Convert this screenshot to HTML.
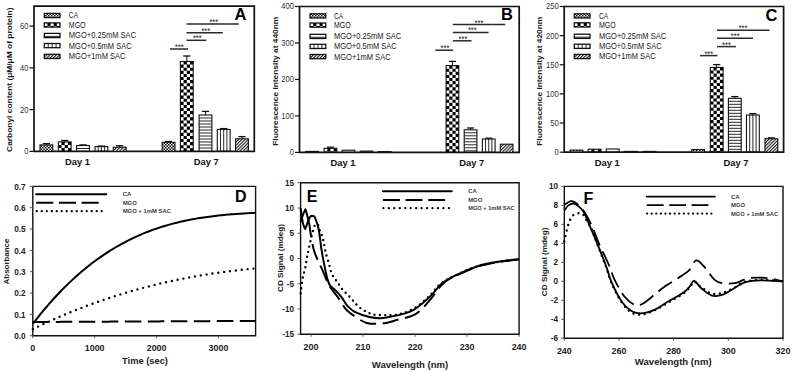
<!DOCTYPE html>
<html><head><meta charset="utf-8"><style>
html,body{margin:0;padding:0;background:#fff;width:793px;height:372px;overflow:hidden}
svg{display:block;font-family:"Liberation Sans", sans-serif}
</style></head><body>
<svg width="793" height="372" viewBox="0 0 793 372">
<rect width="793" height="372" fill="#fff"/>
<defs>
<pattern id="pCA" patternUnits="userSpaceOnUse" width="3" height="3"><rect width="3" height="3" fill="#fff"/><rect width="1.5" height="1.5" fill="#000"/><rect x="1.5" y="1.5" width="1.5" height="1.5" fill="#000"/></pattern>
<pattern id="pMGO" patternUnits="userSpaceOnUse" width="6.1" height="6.1"><rect width="6.1" height="6.1" fill="#fff"/><rect width="3.05" height="3.05" fill="#000"/><rect x="3.05" y="3.05" width="3.05" height="3.05" fill="#000"/></pattern>
<pattern id="pH" patternUnits="userSpaceOnUse" width="4" height="3"><rect width="4" height="3" fill="#fff"/><rect y="0" width="4" height="1" fill="#111"/></pattern>
<pattern id="pV" patternUnits="userSpaceOnUse" width="3.1" height="4"><rect width="3.1" height="4" fill="#fff"/><rect x="0" width="1" height="4" fill="#111"/></pattern>
<pattern id="pD" patternUnits="userSpaceOnUse" width="2.3" height="4" patternTransform="rotate(45)"><rect width="2.3" height="4" fill="#fff"/><rect width="1.05" height="4" fill="#111"/></pattern>
</defs>
<path d="M34,6.2 H254.3 V151.4 H34 Z" fill="none" stroke="#111" stroke-width="1.7"/>
<line x1="29.5" y1="151.4" x2="34" y2="151.4" stroke="#111" stroke-width="1.2"/>
<text transform="translate(28.4,154.3) scale(0.88,1)" font-size="8.6" text-anchor="end" fill="#333">0</text>
<line x1="29.5" y1="109.63" x2="34" y2="109.63" stroke="#111" stroke-width="1.2"/>
<text transform="translate(28.4,112.53) scale(0.88,1)" font-size="8.6" text-anchor="end" fill="#333">20</text>
<line x1="29.5" y1="67.87" x2="34" y2="67.87" stroke="#111" stroke-width="1.2"/>
<text transform="translate(28.4,70.77) scale(0.88,1)" font-size="8.6" text-anchor="end" fill="#333">40</text>
<line x1="29.5" y1="26.1" x2="34" y2="26.1" stroke="#111" stroke-width="1.2"/>
<text transform="translate(28.4,29) scale(0.88,1)" font-size="8.6" text-anchor="end" fill="#333">60</text>
<rect x="40" y="144.9" width="12.8" height="6.5" fill="url(#pCA)"/>
<rect x="40" y="144.9" width="12.8" height="6.5" fill="none" stroke="#111" stroke-width="1.1"/>
<line x1="46.4" y1="143.6" x2="46.4" y2="144.9" stroke="#111" stroke-width="1"/>
<line x1="42.8" y1="143.6" x2="50" y2="143.6" stroke="#111" stroke-width="1.3"/>
<path d="M61.5,141.9h3.2v3.1h-3.2zM67.9,141.9h3.2v3.1h-3.2zM58.3,145h3.2v3.1h-3.2zM64.7,145h3.2v3.1h-3.2zM61.5,148.1h3.2v3.1h-3.2zM67.9,148.1h3.2v3.1h-3.2zM58.3,151.2h3.2v0.2h-3.2zM64.7,151.2h3.2v0.2h-3.2z" fill="#000"/>
<rect x="58.3" y="141.9" width="12.8" height="9.5" fill="none" stroke="#111" stroke-width="1.1"/>
<line x1="64.7" y1="140.5" x2="64.7" y2="141.9" stroke="#111" stroke-width="1"/>
<line x1="61.1" y1="140.5" x2="68.3" y2="140.5" stroke="#111" stroke-width="1.3"/>
<path d="M76.6,148.5H89.4" stroke="#111" stroke-width="0.9"/>
<rect x="76.6" y="145.5" width="12.8" height="5.9" fill="none" stroke="#111" stroke-width="1.1"/>
<line x1="83" y1="144.9" x2="83" y2="145.5" stroke="#111" stroke-width="1"/>
<line x1="79.4" y1="144.9" x2="86.6" y2="144.9" stroke="#111" stroke-width="1.3"/>
<path d="M98.2,146.6V151.4M101.4,146.6V151.4M104.6,146.6V151.4" stroke="#111" stroke-width="0.9"/>
<rect x="95" y="146.6" width="12.8" height="4.8" fill="none" stroke="#111" stroke-width="1.1"/>
<line x1="101.4" y1="146.1" x2="101.4" y2="146.6" stroke="#111" stroke-width="1"/>
<line x1="97.8" y1="146.1" x2="105" y2="146.1" stroke="#111" stroke-width="1.3"/>
<rect x="113.3" y="147.2" width="12.8" height="4.2" fill="url(#pD)"/>
<rect x="113.3" y="147.2" width="12.8" height="4.2" fill="none" stroke="#111" stroke-width="1.1"/>
<line x1="119.7" y1="145.7" x2="119.7" y2="147.2" stroke="#111" stroke-width="1"/>
<line x1="116.1" y1="145.7" x2="123.3" y2="145.7" stroke="#111" stroke-width="1.3"/>
<rect x="162.2" y="142.3" width="12.8" height="9.1" fill="url(#pCA)"/>
<rect x="162.2" y="142.3" width="12.8" height="9.1" fill="none" stroke="#111" stroke-width="1.1"/>
<line x1="168.6" y1="141.5" x2="168.6" y2="142.3" stroke="#111" stroke-width="1"/>
<line x1="165" y1="141.5" x2="172.2" y2="141.5" stroke="#111" stroke-width="1.3"/>
<path d="M183.6,61.5h3.2v3.1h-3.2zM190,61.5h3.2v3.1h-3.2zM180.4,64.6h3.2v3.1h-3.2zM186.8,64.6h3.2v3.1h-3.2zM183.6,67.7h3.2v3.1h-3.2zM190,67.7h3.2v3.1h-3.2zM180.4,70.8h3.2v3.1h-3.2zM186.8,70.8h3.2v3.1h-3.2zM183.6,73.9h3.2v3.1h-3.2zM190,73.9h3.2v3.1h-3.2zM180.4,77h3.2v3.1h-3.2zM186.8,77h3.2v3.1h-3.2zM183.6,80.1h3.2v3.1h-3.2zM190,80.1h3.2v3.1h-3.2zM180.4,83.2h3.2v3.1h-3.2zM186.8,83.2h3.2v3.1h-3.2zM183.6,86.3h3.2v3.1h-3.2zM190,86.3h3.2v3.1h-3.2zM180.4,89.4h3.2v3.1h-3.2zM186.8,89.4h3.2v3.1h-3.2zM183.6,92.5h3.2v3.1h-3.2zM190,92.5h3.2v3.1h-3.2zM180.4,95.6h3.2v3.1h-3.2zM186.8,95.6h3.2v3.1h-3.2zM183.6,98.7h3.2v3.1h-3.2zM190,98.7h3.2v3.1h-3.2zM180.4,101.8h3.2v3.1h-3.2zM186.8,101.8h3.2v3.1h-3.2zM183.6,104.9h3.2v3.1h-3.2zM190,104.9h3.2v3.1h-3.2zM180.4,108h3.2v3.1h-3.2zM186.8,108h3.2v3.1h-3.2zM183.6,111.1h3.2v3.1h-3.2zM190,111.1h3.2v3.1h-3.2zM180.4,114.2h3.2v3.1h-3.2zM186.8,114.2h3.2v3.1h-3.2zM183.6,117.3h3.2v3.1h-3.2zM190,117.3h3.2v3.1h-3.2zM180.4,120.4h3.2v3.1h-3.2zM186.8,120.4h3.2v3.1h-3.2zM183.6,123.5h3.2v3.1h-3.2zM190,123.5h3.2v3.1h-3.2zM180.4,126.6h3.2v3.1h-3.2zM186.8,126.6h3.2v3.1h-3.2zM183.6,129.7h3.2v3.1h-3.2zM190,129.7h3.2v3.1h-3.2zM180.4,132.8h3.2v3.1h-3.2zM186.8,132.8h3.2v3.1h-3.2zM183.6,135.9h3.2v3.1h-3.2zM190,135.9h3.2v3.1h-3.2zM180.4,139h3.2v3.1h-3.2zM186.8,139h3.2v3.1h-3.2zM183.6,142.1h3.2v3.1h-3.2zM190,142.1h3.2v3.1h-3.2zM180.4,145.2h3.2v3.1h-3.2zM186.8,145.2h3.2v3.1h-3.2zM183.6,148.3h3.2v3.1h-3.2zM190,148.3h3.2v3.1h-3.2z" fill="#000"/>
<rect x="180.4" y="61.5" width="12.8" height="89.9" fill="none" stroke="#111" stroke-width="1.1"/>
<line x1="186.8" y1="56" x2="186.8" y2="61.5" stroke="#111" stroke-width="1"/>
<line x1="183.2" y1="56" x2="190.4" y2="56" stroke="#111" stroke-width="1.3"/>
<path d="M199.1,118H211.9M199.1,121H211.9M199.1,124H211.9M199.1,127H211.9M199.1,130H211.9M199.1,133H211.9M199.1,136H211.9M199.1,139H211.9M199.1,142H211.9M199.1,145H211.9M199.1,148H211.9" stroke="#111" stroke-width="0.9"/>
<rect x="199.1" y="115" width="12.8" height="36.4" fill="none" stroke="#111" stroke-width="1.1"/>
<line x1="205.5" y1="111.4" x2="205.5" y2="115" stroke="#111" stroke-width="1"/>
<line x1="201.9" y1="111.4" x2="209.1" y2="111.4" stroke="#111" stroke-width="1.3"/>
<path d="M220.5,129.4V151.4M223.7,129.4V151.4M226.9,129.4V151.4" stroke="#111" stroke-width="0.9"/>
<rect x="217.3" y="129.4" width="12.8" height="22" fill="none" stroke="#111" stroke-width="1.1"/>
<line x1="223.7" y1="128.6" x2="223.7" y2="129.4" stroke="#111" stroke-width="1"/>
<line x1="220.1" y1="128.6" x2="227.3" y2="128.6" stroke="#111" stroke-width="1.3"/>
<rect x="235.6" y="138.8" width="12.8" height="12.6" fill="url(#pD)"/>
<rect x="235.6" y="138.8" width="12.8" height="12.6" fill="none" stroke="#111" stroke-width="1.1"/>
<line x1="242" y1="136.6" x2="242" y2="138.8" stroke="#111" stroke-width="1"/>
<line x1="238.4" y1="136.6" x2="245.6" y2="136.6" stroke="#111" stroke-width="1.3"/>
<text x="77.5" y="165" font-size="9.4" font-weight="bold" text-anchor="middle" fill="#111">Day 1</text>
<text x="206.3" y="165" font-size="9.4" font-weight="bold" text-anchor="middle" fill="#111">Day 7</text>
<line x1="170" y1="49" x2="188" y2="49" stroke="#2a2a2a" stroke-width="1.5"/>
<text x="179.4" y="50" font-size="8.6" font-weight="normal" text-anchor="middle" fill="#222" textLength="8.8" lengthAdjust="spacingAndGlyphs">***</text>
<line x1="186.5" y1="40.3" x2="206.3" y2="40.3" stroke="#2a2a2a" stroke-width="1.5"/>
<text x="197.3" y="41.3" font-size="8.6" font-weight="normal" text-anchor="middle" fill="#222" textLength="8.8" lengthAdjust="spacingAndGlyphs">***</text>
<line x1="186.5" y1="32.8" x2="222.8" y2="32.8" stroke="#2a2a2a" stroke-width="1.5"/>
<text x="205.8" y="33.8" font-size="8.6" font-weight="normal" text-anchor="middle" fill="#222" textLength="8.8" lengthAdjust="spacingAndGlyphs">***</text>
<line x1="186.5" y1="24" x2="238.8" y2="24" stroke="#2a2a2a" stroke-width="1.5"/>
<text x="213.8" y="25" font-size="8.6" font-weight="normal" text-anchor="middle" fill="#222" textLength="8.8" lengthAdjust="spacingAndGlyphs">***</text>
<rect x="44.3" y="13.4" width="15.7" height="4.2" fill="url(#pCA)"/>
<rect x="44.3" y="13.4" width="15.7" height="4.2" fill="none" stroke="#111" stroke-width="1.3"/>
<text x="68.8" y="18.4" font-size="8.3" font-weight="normal" text-anchor="start" fill="#1a1a1a" textLength="9.3" lengthAdjust="spacingAndGlyphs">CA</text>
<path d="M47.44,22.9h3.14v3.1h-3.14zM53.72,22.9h3.14v3.1h-3.14zM44.3,26h3.14v1.1h-3.14zM50.58,26h3.14v1.1h-3.14zM56.86,26h3.14v1.1h-3.14z" fill="#000"/>
<rect x="44.3" y="22.9" width="15.7" height="4.2" fill="none" stroke="#111" stroke-width="1.3"/>
<text x="68.8" y="27.9" font-size="8.3" font-weight="normal" text-anchor="start" fill="#1a1a1a" textLength="16.8" lengthAdjust="spacingAndGlyphs">MGO</text>
<path d="M44.3,36.4H60" stroke="#111" stroke-width="0.9"/>
<rect x="44.3" y="33.4" width="15.7" height="4.2" fill="none" stroke="#111" stroke-width="1.3"/>
<text x="68.8" y="38.4" font-size="8.3" font-weight="normal" text-anchor="start" fill="#1a1a1a" textLength="67.3" lengthAdjust="spacingAndGlyphs">MGO+0.25mM SAC</text>
<path d="M48.22,43.5V47.7M52.15,43.5V47.7M56.07,43.5V47.7" stroke="#111" stroke-width="0.9"/>
<rect x="44.3" y="43.5" width="15.7" height="4.2" fill="none" stroke="#111" stroke-width="1.3"/>
<text x="68.8" y="48.5" font-size="8.3" font-weight="normal" text-anchor="start" fill="#1a1a1a" textLength="62.8" lengthAdjust="spacingAndGlyphs">MGO+0.5mM SAC</text>
<rect x="44.3" y="54.3" width="15.7" height="4.2" fill="url(#pD)"/>
<rect x="44.3" y="54.3" width="15.7" height="4.2" fill="none" stroke="#111" stroke-width="1.3"/>
<text x="68.8" y="59.3" font-size="8.3" font-weight="normal" text-anchor="start" fill="#1a1a1a" textLength="56.7" lengthAdjust="spacingAndGlyphs">MGO+1mM SAC</text>
<text x="234.4" y="20" font-size="16.5" font-weight="bold" text-anchor="start" fill="#000">A</text>
<text transform="translate(12.4,79.7) rotate(-90)" font-size="7.8" font-weight="bold" text-anchor="middle" fill="#1a1a1a" textLength="144.4" lengthAdjust="spacingAndGlyphs">Carbonyl content (μM/μM of protein)</text>
<path d="M299.5,6.5 H519.2 V152.4 H299.5 Z" fill="none" stroke="#111" stroke-width="1.7"/>
<line x1="295" y1="152.4" x2="299.5" y2="152.4" stroke="#111" stroke-width="1.2"/>
<text transform="translate(293.9,155.3) scale(0.88,1)" font-size="8.6" text-anchor="end" fill="#333">0</text>
<line x1="295" y1="115.93" x2="299.5" y2="115.93" stroke="#111" stroke-width="1.2"/>
<text transform="translate(293.9,118.83) scale(0.88,1)" font-size="8.6" text-anchor="end" fill="#333">100</text>
<line x1="295" y1="79.45" x2="299.5" y2="79.45" stroke="#111" stroke-width="1.2"/>
<text transform="translate(293.9,82.35) scale(0.88,1)" font-size="8.6" text-anchor="end" fill="#333">200</text>
<line x1="295" y1="42.98" x2="299.5" y2="42.98" stroke="#111" stroke-width="1.2"/>
<text transform="translate(293.9,45.88) scale(0.88,1)" font-size="8.6" text-anchor="end" fill="#333">300</text>
<line x1="295" y1="6.5" x2="299.5" y2="6.5" stroke="#111" stroke-width="1.2"/>
<text transform="translate(293.9,9.4) scale(0.88,1)" font-size="8.6" text-anchor="end" fill="#333">400</text>
<rect x="305.8" y="151.4" width="12.7" height="1" fill="url(#pCA)"/>
<rect x="305.8" y="151.4" width="12.7" height="1" fill="none" stroke="#111" stroke-width="1.1"/>
<path d="M327.28,148.3h3.17v3.1h-3.17zM333.62,148.3h3.17v3.1h-3.17zM324.1,151.4h3.17v1h-3.17zM330.45,151.4h3.17v1h-3.17z" fill="#000"/>
<rect x="324.1" y="148.3" width="12.7" height="4.1" fill="none" stroke="#111" stroke-width="1.1"/>
<line x1="330.45" y1="147.2" x2="330.45" y2="148.3" stroke="#111" stroke-width="1"/>
<line x1="326.85" y1="147.2" x2="334.05" y2="147.2" stroke="#111" stroke-width="1.3"/>
<rect x="342.2" y="150.2" width="12.7" height="2.2" fill="none" stroke="#111" stroke-width="1.1"/>
<path d="M363.38,151.1V152.4M366.55,151.1V152.4M369.72,151.1V152.4" stroke="#111" stroke-width="0.9"/>
<rect x="360.2" y="151.1" width="12.7" height="1.3" fill="none" stroke="#111" stroke-width="1.1"/>
<rect x="378.4" y="151.6" width="12.7" height="0.8" fill="url(#pD)"/>
<rect x="378.4" y="151.6" width="12.7" height="0.8" fill="none" stroke="#111" stroke-width="1.1"/>
<path d="M449.28,65.6h3.17v3.1h-3.17zM455.62,65.6h3.17v3.1h-3.17zM446.1,68.7h3.17v3.1h-3.17zM452.45,68.7h3.17v3.1h-3.17zM449.28,71.8h3.17v3.1h-3.17zM455.62,71.8h3.17v3.1h-3.17zM446.1,74.9h3.17v3.1h-3.17zM452.45,74.9h3.17v3.1h-3.17zM449.28,78h3.17v3.1h-3.17zM455.62,78h3.17v3.1h-3.17zM446.1,81.1h3.17v3.1h-3.17zM452.45,81.1h3.17v3.1h-3.17zM449.28,84.2h3.17v3.1h-3.17zM455.62,84.2h3.17v3.1h-3.17zM446.1,87.3h3.17v3.1h-3.17zM452.45,87.3h3.17v3.1h-3.17zM449.28,90.4h3.17v3.1h-3.17zM455.62,90.4h3.17v3.1h-3.17zM446.1,93.5h3.17v3.1h-3.17zM452.45,93.5h3.17v3.1h-3.17zM449.28,96.6h3.17v3.1h-3.17zM455.62,96.6h3.17v3.1h-3.17zM446.1,99.7h3.17v3.1h-3.17zM452.45,99.7h3.17v3.1h-3.17zM449.28,102.8h3.17v3.1h-3.17zM455.62,102.8h3.17v3.1h-3.17zM446.1,105.9h3.17v3.1h-3.17zM452.45,105.9h3.17v3.1h-3.17zM449.28,109h3.17v3.1h-3.17zM455.62,109h3.17v3.1h-3.17zM446.1,112.1h3.17v3.1h-3.17zM452.45,112.1h3.17v3.1h-3.17zM449.28,115.2h3.17v3.1h-3.17zM455.62,115.2h3.17v3.1h-3.17zM446.1,118.3h3.17v3.1h-3.17zM452.45,118.3h3.17v3.1h-3.17zM449.28,121.4h3.17v3.1h-3.17zM455.62,121.4h3.17v3.1h-3.17zM446.1,124.5h3.17v3.1h-3.17zM452.45,124.5h3.17v3.1h-3.17zM449.28,127.6h3.17v3.1h-3.17zM455.62,127.6h3.17v3.1h-3.17zM446.1,130.7h3.17v3.1h-3.17zM452.45,130.7h3.17v3.1h-3.17zM449.28,133.8h3.17v3.1h-3.17zM455.62,133.8h3.17v3.1h-3.17zM446.1,136.9h3.17v3.1h-3.17zM452.45,136.9h3.17v3.1h-3.17zM449.28,140h3.17v3.1h-3.17zM455.62,140h3.17v3.1h-3.17zM446.1,143.1h3.17v3.1h-3.17zM452.45,143.1h3.17v3.1h-3.17zM449.28,146.2h3.17v3.1h-3.17zM455.62,146.2h3.17v3.1h-3.17zM446.1,149.3h3.17v3.1h-3.17zM452.45,149.3h3.17v3.1h-3.17zM449.28,152.4h3.17v0h-3.17zM455.62,152.4h3.17v0h-3.17z" fill="#000"/>
<rect x="446.1" y="65.6" width="12.7" height="86.8" fill="none" stroke="#111" stroke-width="1.1"/>
<line x1="452.45" y1="61.4" x2="452.45" y2="65.6" stroke="#111" stroke-width="1"/>
<line x1="448.85" y1="61.4" x2="456.05" y2="61.4" stroke="#111" stroke-width="1.3"/>
<path d="M464.2,132.8H476.9M464.2,135.8H476.9M464.2,138.8H476.9M464.2,141.8H476.9M464.2,144.8H476.9M464.2,147.8H476.9M464.2,150.8H476.9" stroke="#111" stroke-width="0.9"/>
<rect x="464.2" y="129.8" width="12.7" height="22.6" fill="none" stroke="#111" stroke-width="1.1"/>
<line x1="470.55" y1="128" x2="470.55" y2="129.8" stroke="#111" stroke-width="1"/>
<line x1="466.95" y1="128" x2="474.15" y2="128" stroke="#111" stroke-width="1.3"/>
<path d="M485.57,139V152.4M488.75,139V152.4M491.92,139V152.4" stroke="#111" stroke-width="0.9"/>
<rect x="482.4" y="139" width="12.7" height="13.4" fill="none" stroke="#111" stroke-width="1.1"/>
<line x1="488.75" y1="138.2" x2="488.75" y2="139" stroke="#111" stroke-width="1"/>
<line x1="485.15" y1="138.2" x2="492.35" y2="138.2" stroke="#111" stroke-width="1.3"/>
<rect x="500.3" y="144.2" width="12.7" height="8.2" fill="url(#pD)"/>
<rect x="500.3" y="144.2" width="12.7" height="8.2" fill="none" stroke="#111" stroke-width="1.1"/>
<text x="343" y="166.2" font-size="9.4" font-weight="bold" text-anchor="middle" fill="#111">Day 1</text>
<text x="471.8" y="166.2" font-size="9.4" font-weight="bold" text-anchor="middle" fill="#111">Day 7</text>
<line x1="435.3" y1="50.2" x2="453.1" y2="50.2" stroke="#2a2a2a" stroke-width="1.5"/>
<text x="445" y="51.2" font-size="8.6" font-weight="normal" text-anchor="middle" fill="#222" textLength="8.8" lengthAdjust="spacingAndGlyphs">***</text>
<line x1="452.8" y1="40.8" x2="471.5" y2="40.8" stroke="#2a2a2a" stroke-width="1.5"/>
<text x="463" y="41.8" font-size="8.6" font-weight="normal" text-anchor="middle" fill="#222" textLength="8.8" lengthAdjust="spacingAndGlyphs">***</text>
<line x1="452.8" y1="32.4" x2="488.6" y2="32.4" stroke="#2a2a2a" stroke-width="1.5"/>
<text x="472.3" y="33.4" font-size="8.6" font-weight="normal" text-anchor="middle" fill="#222" textLength="8.8" lengthAdjust="spacingAndGlyphs">***</text>
<line x1="452.8" y1="24.6" x2="505.2" y2="24.6" stroke="#2a2a2a" stroke-width="1.5"/>
<text x="479" y="25.6" font-size="8.6" font-weight="normal" text-anchor="middle" fill="#222" textLength="8.8" lengthAdjust="spacingAndGlyphs">***</text>
<rect x="310.1" y="13.8" width="15.7" height="4.2" fill="url(#pCA)"/>
<rect x="310.1" y="13.8" width="15.7" height="4.2" fill="none" stroke="#111" stroke-width="1.3"/>
<text x="333.9" y="18.8" font-size="8.3" font-weight="normal" text-anchor="start" fill="#1a1a1a" textLength="9.3" lengthAdjust="spacingAndGlyphs">CA</text>
<path d="M313.24,23h3.14v3.1h-3.14zM319.52,23h3.14v3.1h-3.14zM310.1,26.1h3.14v1.1h-3.14zM316.38,26.1h3.14v1.1h-3.14zM322.66,26.1h3.14v1.1h-3.14z" fill="#000"/>
<rect x="310.1" y="23" width="15.7" height="4.2" fill="none" stroke="#111" stroke-width="1.3"/>
<text x="333.9" y="28" font-size="8.3" font-weight="normal" text-anchor="start" fill="#1a1a1a" textLength="16.8" lengthAdjust="spacingAndGlyphs">MGO</text>
<path d="M310.1,37.3H325.8" stroke="#111" stroke-width="0.9"/>
<rect x="310.1" y="34.3" width="15.7" height="4.2" fill="none" stroke="#111" stroke-width="1.3"/>
<text x="333.9" y="39.3" font-size="8.3" font-weight="normal" text-anchor="start" fill="#1a1a1a" textLength="67.3" lengthAdjust="spacingAndGlyphs">MGO+0.25mM SAC</text>
<path d="M314.03,44.3V48.5M317.95,44.3V48.5M321.88,44.3V48.5" stroke="#111" stroke-width="0.9"/>
<rect x="310.1" y="44.3" width="15.7" height="4.2" fill="none" stroke="#111" stroke-width="1.3"/>
<text x="333.9" y="49.3" font-size="8.3" font-weight="normal" text-anchor="start" fill="#1a1a1a" textLength="62.8" lengthAdjust="spacingAndGlyphs">MGO+0.5mM SAC</text>
<rect x="310.1" y="54.5" width="15.7" height="4.2" fill="url(#pD)"/>
<rect x="310.1" y="54.5" width="15.7" height="4.2" fill="none" stroke="#111" stroke-width="1.3"/>
<text x="333.9" y="59.5" font-size="8.3" font-weight="normal" text-anchor="start" fill="#1a1a1a" textLength="56.7" lengthAdjust="spacingAndGlyphs">MGO+1mM SAC</text>
<text x="500.9" y="19.9" font-size="16.5" font-weight="bold" text-anchor="start" fill="#000">B</text>
<text transform="translate(278,81.25) rotate(-90)" font-size="7.8" font-weight="bold" text-anchor="middle" fill="#1a1a1a" textLength="129" lengthAdjust="spacingAndGlyphs">Fluorescence Intensity at 440nm</text>
<path d="M564.2,6.5 H783.6 V152.2 H564.2 Z" fill="none" stroke="#111" stroke-width="1.7"/>
<line x1="559.7" y1="152.2" x2="564.2" y2="152.2" stroke="#111" stroke-width="1.2"/>
<text transform="translate(558.6,155.1) scale(0.88,1)" font-size="8.6" text-anchor="end" fill="#333">0</text>
<line x1="559.7" y1="123.06" x2="564.2" y2="123.06" stroke="#111" stroke-width="1.2"/>
<text transform="translate(558.6,125.96) scale(0.88,1)" font-size="8.6" text-anchor="end" fill="#333">50</text>
<line x1="559.7" y1="93.92" x2="564.2" y2="93.92" stroke="#111" stroke-width="1.2"/>
<text transform="translate(558.6,96.82) scale(0.88,1)" font-size="8.6" text-anchor="end" fill="#333">100</text>
<line x1="559.7" y1="64.78" x2="564.2" y2="64.78" stroke="#111" stroke-width="1.2"/>
<text transform="translate(558.6,67.68) scale(0.88,1)" font-size="8.6" text-anchor="end" fill="#333">150</text>
<line x1="559.7" y1="35.64" x2="564.2" y2="35.64" stroke="#111" stroke-width="1.2"/>
<text transform="translate(558.6,38.54) scale(0.88,1)" font-size="8.6" text-anchor="end" fill="#333">200</text>
<line x1="559.7" y1="6.5" x2="564.2" y2="6.5" stroke="#111" stroke-width="1.2"/>
<text transform="translate(558.6,9.4) scale(0.88,1)" font-size="8.6" text-anchor="end" fill="#333">250</text>
<rect x="570.1" y="150.1" width="12.8" height="2.1" fill="url(#pCA)"/>
<rect x="570.1" y="150.1" width="12.8" height="2.1" fill="none" stroke="#111" stroke-width="1.1"/>
<path d="M591.4,149.2h3.2v3h-3.2zM597.8,149.2h3.2v3h-3.2z" fill="#000"/>
<rect x="588.2" y="149.2" width="12.8" height="3" fill="none" stroke="#111" stroke-width="1.1"/>
<rect x="606.3" y="149" width="12.8" height="3.2" fill="none" stroke="#111" stroke-width="1.1"/>
<path d="M627.6,151.4V152.2M630.8,151.4V152.2M634,151.4V152.2" stroke="#111" stroke-width="0.9"/>
<rect x="624.4" y="151.4" width="12.8" height="0.8" fill="none" stroke="#111" stroke-width="1.1"/>
<rect x="643" y="151.4" width="12.8" height="0.8" fill="url(#pD)"/>
<rect x="643" y="151.4" width="12.8" height="0.8" fill="none" stroke="#111" stroke-width="1.1"/>
<rect x="691.7" y="149.6" width="12.8" height="2.6" fill="url(#pCA)"/>
<rect x="691.7" y="149.6" width="12.8" height="2.6" fill="none" stroke="#111" stroke-width="1.1"/>
<path d="M713.5,67.4h3.2v3.1h-3.2zM719.9,67.4h3.2v3.1h-3.2zM710.3,70.5h3.2v3.1h-3.2zM716.7,70.5h3.2v3.1h-3.2zM713.5,73.6h3.2v3.1h-3.2zM719.9,73.6h3.2v3.1h-3.2zM710.3,76.7h3.2v3.1h-3.2zM716.7,76.7h3.2v3.1h-3.2zM713.5,79.8h3.2v3.1h-3.2zM719.9,79.8h3.2v3.1h-3.2zM710.3,82.9h3.2v3.1h-3.2zM716.7,82.9h3.2v3.1h-3.2zM713.5,86h3.2v3.1h-3.2zM719.9,86h3.2v3.1h-3.2zM710.3,89.1h3.2v3.1h-3.2zM716.7,89.1h3.2v3.1h-3.2zM713.5,92.2h3.2v3.1h-3.2zM719.9,92.2h3.2v3.1h-3.2zM710.3,95.3h3.2v3.1h-3.2zM716.7,95.3h3.2v3.1h-3.2zM713.5,98.4h3.2v3.1h-3.2zM719.9,98.4h3.2v3.1h-3.2zM710.3,101.5h3.2v3.1h-3.2zM716.7,101.5h3.2v3.1h-3.2zM713.5,104.6h3.2v3.1h-3.2zM719.9,104.6h3.2v3.1h-3.2zM710.3,107.7h3.2v3.1h-3.2zM716.7,107.7h3.2v3.1h-3.2zM713.5,110.8h3.2v3.1h-3.2zM719.9,110.8h3.2v3.1h-3.2zM710.3,113.9h3.2v3.1h-3.2zM716.7,113.9h3.2v3.1h-3.2zM713.5,117h3.2v3.1h-3.2zM719.9,117h3.2v3.1h-3.2zM710.3,120.1h3.2v3.1h-3.2zM716.7,120.1h3.2v3.1h-3.2zM713.5,123.2h3.2v3.1h-3.2zM719.9,123.2h3.2v3.1h-3.2zM710.3,126.3h3.2v3.1h-3.2zM716.7,126.3h3.2v3.1h-3.2zM713.5,129.4h3.2v3.1h-3.2zM719.9,129.4h3.2v3.1h-3.2zM710.3,132.5h3.2v3.1h-3.2zM716.7,132.5h3.2v3.1h-3.2zM713.5,135.6h3.2v3.1h-3.2zM719.9,135.6h3.2v3.1h-3.2zM710.3,138.7h3.2v3.1h-3.2zM716.7,138.7h3.2v3.1h-3.2zM713.5,141.8h3.2v3.1h-3.2zM719.9,141.8h3.2v3.1h-3.2zM710.3,144.9h3.2v3.1h-3.2zM716.7,144.9h3.2v3.1h-3.2zM713.5,148h3.2v3.1h-3.2zM719.9,148h3.2v3.1h-3.2zM710.3,151.1h3.2v1.1h-3.2zM716.7,151.1h3.2v1.1h-3.2z" fill="#000"/>
<rect x="710.3" y="67.4" width="12.8" height="84.8" fill="none" stroke="#111" stroke-width="1.1"/>
<line x1="716.7" y1="64.6" x2="716.7" y2="67.4" stroke="#111" stroke-width="1"/>
<line x1="713.1" y1="64.6" x2="720.3" y2="64.6" stroke="#111" stroke-width="1.3"/>
<path d="M728.4,101.3H741.2M728.4,104.3H741.2M728.4,107.3H741.2M728.4,110.3H741.2M728.4,113.3H741.2M728.4,116.3H741.2M728.4,119.3H741.2M728.4,122.3H741.2M728.4,125.3H741.2M728.4,128.3H741.2M728.4,131.3H741.2M728.4,134.3H741.2M728.4,137.3H741.2M728.4,140.3H741.2M728.4,143.3H741.2M728.4,146.3H741.2M728.4,149.3H741.2" stroke="#111" stroke-width="0.9"/>
<rect x="728.4" y="98.3" width="12.8" height="53.9" fill="none" stroke="#111" stroke-width="1.1"/>
<line x1="734.8" y1="96.6" x2="734.8" y2="98.3" stroke="#111" stroke-width="1"/>
<line x1="731.2" y1="96.6" x2="738.4" y2="96.6" stroke="#111" stroke-width="1.3"/>
<path d="M749.7,115V152.2M752.9,115V152.2M756.1,115V152.2" stroke="#111" stroke-width="0.9"/>
<rect x="746.5" y="115" width="12.8" height="37.2" fill="none" stroke="#111" stroke-width="1.1"/>
<line x1="752.9" y1="113.6" x2="752.9" y2="115" stroke="#111" stroke-width="1"/>
<line x1="749.3" y1="113.6" x2="756.5" y2="113.6" stroke="#111" stroke-width="1.3"/>
<rect x="765" y="138.7" width="12.8" height="13.5" fill="url(#pD)"/>
<rect x="765" y="138.7" width="12.8" height="13.5" fill="none" stroke="#111" stroke-width="1.1"/>
<line x1="771.4" y1="137.9" x2="771.4" y2="138.7" stroke="#111" stroke-width="1"/>
<line x1="767.8" y1="137.9" x2="775" y2="137.9" stroke="#111" stroke-width="1.3"/>
<text x="607.3" y="166.2" font-size="9.4" font-weight="bold" text-anchor="middle" fill="#111">Day 1</text>
<text x="736" y="166.2" font-size="9.4" font-weight="bold" text-anchor="middle" fill="#111">Day 7</text>
<line x1="700.1" y1="55.6" x2="717.5" y2="55.6" stroke="#2a2a2a" stroke-width="1.5"/>
<text x="708.8" y="56.6" font-size="8.6" font-weight="normal" text-anchor="middle" fill="#222" textLength="8.8" lengthAdjust="spacingAndGlyphs">***</text>
<line x1="717" y1="46.6" x2="735.9" y2="46.6" stroke="#2a2a2a" stroke-width="1.5"/>
<text x="726.5" y="47.6" font-size="8.6" font-weight="normal" text-anchor="middle" fill="#222" textLength="8.8" lengthAdjust="spacingAndGlyphs">***</text>
<line x1="717" y1="38.2" x2="753" y2="38.2" stroke="#2a2a2a" stroke-width="1.5"/>
<text x="735.2" y="39.2" font-size="8.6" font-weight="normal" text-anchor="middle" fill="#222" textLength="8.8" lengthAdjust="spacingAndGlyphs">***</text>
<line x1="717" y1="30.3" x2="769.6" y2="30.3" stroke="#2a2a2a" stroke-width="1.5"/>
<text x="743.1" y="31.3" font-size="8.6" font-weight="normal" text-anchor="middle" fill="#222" textLength="8.8" lengthAdjust="spacingAndGlyphs">***</text>
<rect x="574.3" y="13.8" width="15.7" height="4.2" fill="url(#pCA)"/>
<rect x="574.3" y="13.8" width="15.7" height="4.2" fill="none" stroke="#111" stroke-width="1.3"/>
<text x="598.9" y="18.8" font-size="8.3" font-weight="normal" text-anchor="start" fill="#1a1a1a" textLength="9.3" lengthAdjust="spacingAndGlyphs">CA</text>
<path d="M577.44,22.8h3.14v3.1h-3.14zM583.72,22.8h3.14v3.1h-3.14zM574.3,25.9h3.14v1.1h-3.14zM580.58,25.9h3.14v1.1h-3.14zM586.86,25.9h3.14v1.1h-3.14z" fill="#000"/>
<rect x="574.3" y="22.8" width="15.7" height="4.2" fill="none" stroke="#111" stroke-width="1.3"/>
<text x="598.9" y="27.8" font-size="8.3" font-weight="normal" text-anchor="start" fill="#1a1a1a" textLength="16.8" lengthAdjust="spacingAndGlyphs">MGO</text>
<path d="M574.3,37.2H590" stroke="#111" stroke-width="0.9"/>
<rect x="574.3" y="34.2" width="15.7" height="4.2" fill="none" stroke="#111" stroke-width="1.3"/>
<text x="598.9" y="39.2" font-size="8.3" font-weight="normal" text-anchor="start" fill="#1a1a1a" textLength="67.3" lengthAdjust="spacingAndGlyphs">MGO+0.25mM SAC</text>
<path d="M578.22,44.2V48.4M582.15,44.2V48.4M586.07,44.2V48.4" stroke="#111" stroke-width="0.9"/>
<rect x="574.3" y="44.2" width="15.7" height="4.2" fill="none" stroke="#111" stroke-width="1.3"/>
<text x="598.9" y="49.2" font-size="8.3" font-weight="normal" text-anchor="start" fill="#1a1a1a" textLength="62.8" lengthAdjust="spacingAndGlyphs">MGO+0.5mM SAC</text>
<rect x="574.3" y="54.4" width="15.7" height="4.2" fill="url(#pD)"/>
<rect x="574.3" y="54.4" width="15.7" height="4.2" fill="none" stroke="#111" stroke-width="1.3"/>
<text x="598.9" y="59.4" font-size="8.3" font-weight="normal" text-anchor="start" fill="#1a1a1a" textLength="56.7" lengthAdjust="spacingAndGlyphs">MGO+1mM SAC</text>
<text x="765.4" y="20.5" font-size="16.5" font-weight="bold" text-anchor="start" fill="#000">C</text>
<text transform="translate(542.1,81.25) rotate(-90)" font-size="7.8" font-weight="bold" text-anchor="middle" fill="#1a1a1a" textLength="129" lengthAdjust="spacingAndGlyphs">Fluorescence Intensity at 420nm</text>
<path d="M32.8,186.4 H255.6 V335.7 H32.8 Z" fill="none" stroke="#111" stroke-width="1.4"/>
<line x1="29.8" y1="335.7" x2="32.8" y2="335.7" stroke="#555" stroke-width="1"/>
<text x="25.6" y="339.1" font-size="8.2" font-weight="bold" text-anchor="end" fill="#222">0.0</text>
<line x1="29.8" y1="314.37" x2="32.8" y2="314.37" stroke="#555" stroke-width="1"/>
<text x="25.6" y="317.77" font-size="8.2" font-weight="bold" text-anchor="end" fill="#222">0.1</text>
<line x1="29.8" y1="293.04" x2="32.8" y2="293.04" stroke="#555" stroke-width="1"/>
<text x="25.6" y="296.44" font-size="8.2" font-weight="bold" text-anchor="end" fill="#222">0.2</text>
<line x1="29.8" y1="271.71" x2="32.8" y2="271.71" stroke="#555" stroke-width="1"/>
<text x="25.6" y="275.11" font-size="8.2" font-weight="bold" text-anchor="end" fill="#222">0.3</text>
<line x1="29.8" y1="250.39" x2="32.8" y2="250.39" stroke="#555" stroke-width="1"/>
<text x="25.6" y="253.79" font-size="8.2" font-weight="bold" text-anchor="end" fill="#222">0.4</text>
<line x1="29.8" y1="229.06" x2="32.8" y2="229.06" stroke="#555" stroke-width="1"/>
<text x="25.6" y="232.46" font-size="8.2" font-weight="bold" text-anchor="end" fill="#222">0.5</text>
<line x1="29.8" y1="207.73" x2="32.8" y2="207.73" stroke="#555" stroke-width="1"/>
<text x="25.6" y="211.13" font-size="8.2" font-weight="bold" text-anchor="end" fill="#222">0.6</text>
<line x1="29.8" y1="186.4" x2="32.8" y2="186.4" stroke="#555" stroke-width="1"/>
<text x="25.6" y="189.8" font-size="8.2" font-weight="bold" text-anchor="end" fill="#222">0.7</text>
<line x1="32.8" y1="335.7" x2="32.8" y2="338.2" stroke="#555" stroke-width="1"/>
<text x="32.8" y="351.4" font-size="8.9" font-weight="bold" text-anchor="middle" fill="#222">0</text>
<line x1="94.69" y1="335.7" x2="94.69" y2="338.2" stroke="#555" stroke-width="1"/>
<text x="94.69" y="351.4" font-size="8.9" font-weight="bold" text-anchor="middle" fill="#222">1000</text>
<line x1="156.58" y1="335.7" x2="156.58" y2="338.2" stroke="#555" stroke-width="1"/>
<text x="156.58" y="351.4" font-size="8.9" font-weight="bold" text-anchor="middle" fill="#222">2000</text>
<line x1="218.47" y1="335.7" x2="218.47" y2="338.2" stroke="#555" stroke-width="1"/>
<text x="218.47" y="351.4" font-size="8.9" font-weight="bold" text-anchor="middle" fill="#222">3000</text>
<text x="145" y="363.8" font-size="9.3" font-weight="bold" text-anchor="middle" fill="#222">Time (sec)</text>
<text transform="translate(8.7,261.5) rotate(-90)" font-size="7.9" font-weight="bold" text-anchor="middle" fill="#222" textLength="45.9" lengthAdjust="spacingAndGlyphs">Absorbance</text>
<polyline points="32.8,323.91 34.66,321.49 36.51,319.11 38.37,316.76 40.23,314.45 42.08,312.18 43.94,309.94 45.8,307.74 47.65,305.57 49.51,303.43 51.37,301.33 53.22,299.26 55.08,297.22 56.94,295.22 58.79,293.25 60.65,291.31 62.51,289.41 64.36,287.54 66.22,285.69 68.08,283.88 69.93,282.1 71.79,280.36 73.65,278.64 75.5,276.95 77.36,275.29 79.22,273.67 81.07,272.07 82.93,270.5 84.79,268.96 86.64,267.44 88.5,265.96 90.36,264.5 92.21,263.08 94.07,261.68 95.93,260.3 97.78,258.95 99.64,257.63 101.5,256.34 103.35,255.07 105.21,253.83 107.07,252.61 108.92,251.42 110.78,250.25 112.64,249.11 114.49,247.99 116.35,246.9 118.21,245.83 120.06,244.78 121.92,243.76 123.78,242.76 125.63,241.78 127.49,240.83 129.35,239.89 131.2,238.98 133.06,238.09 134.92,237.22 136.77,236.37 138.63,235.55 140.49,234.74 142.34,233.95 144.2,233.19 146.06,232.44 147.91,231.71 149.77,231 151.63,230.31 153.48,229.64 155.34,228.98 157.2,228.35 159.05,227.73 160.91,227.13 162.77,226.54 164.62,225.98 166.48,225.42 168.34,224.89 170.19,224.37 172.05,223.87 173.91,223.38 175.76,222.91 177.62,222.45 179.48,222 181.33,221.57 183.19,221.16 185.05,220.76 186.9,220.37 188.76,219.99 190.62,219.63 192.47,219.28 194.33,218.94 196.19,218.61 198.04,218.3 199.9,218 201.76,217.7 203.61,217.42 205.47,217.15 207.33,216.89 209.18,216.64 211.04,216.4 212.9,216.17 214.75,215.95 216.61,215.73 218.47,215.53 220.32,215.33 222.18,215.14 224.04,214.96 225.89,214.79 227.75,214.62 229.61,214.47 231.46,214.31 233.32,214.17 235.18,214.03 237.03,213.89 238.89,213.76 240.75,213.64 242.6,213.52 244.46,213.41 246.32,213.3 248.17,213.19 250.03,213.09 251.89,212.99 253.74,212.9 255.6,212.8" fill="none" stroke="#000" stroke-width="2" stroke-linejoin="round"/>
<polyline points="32.8,329.15 34.66,328.25 36.51,327.35 38.37,326.46 40.23,325.57 42.08,324.7 43.94,323.83 45.8,322.97 47.65,322.12 49.51,321.27 51.37,320.43 53.22,319.6 55.08,318.78 56.94,317.96 58.79,317.16 60.65,316.36 62.51,315.56 64.36,314.78 66.22,314 68.08,313.23 69.93,312.46 71.79,311.71 73.65,310.96 75.5,310.22 77.36,309.48 79.22,308.75 81.07,308.03 82.93,307.32 84.79,306.61 86.64,305.91 88.5,305.22 90.36,304.53 92.21,303.86 94.07,303.18 95.93,302.52 97.78,301.86 99.64,301.21 101.5,300.57 103.35,299.93 105.21,299.3 107.07,298.68 108.92,298.06 110.78,297.45 112.64,296.85 114.49,296.25 116.35,295.66 118.21,295.08 120.06,294.5 121.92,293.93 123.78,293.37 125.63,292.81 127.49,292.26 129.35,291.71 131.2,291.17 133.06,290.64 134.92,290.12 136.77,289.6 138.63,289.09 140.49,288.58 142.34,288.08 144.2,287.59 146.06,287.1 147.91,286.62 149.77,286.14 151.63,285.67 153.48,285.21 155.34,284.75 157.2,284.3 159.05,283.86 160.91,283.42 162.77,282.99 164.62,282.56 166.48,282.14 168.34,281.73 170.19,281.32 172.05,280.91 173.91,280.52 175.76,280.13 177.62,279.74 179.48,279.36 181.33,278.99 183.19,278.62 185.05,278.26 186.9,277.9 188.76,277.55 190.62,277.2 192.47,276.86 194.33,276.53 196.19,276.2 198.04,275.87 199.9,275.55 201.76,275.24 203.61,274.93 205.47,274.63 207.33,274.34 209.18,274.04 211.04,273.76 212.9,273.48 214.75,273.2 216.61,272.93 218.47,272.67 220.32,272.41 222.18,272.15 224.04,271.9 225.89,271.66 227.75,271.42 229.61,271.19 231.46,270.96 233.32,270.73 235.18,270.51 237.03,270.3 238.89,270.09 240.75,269.88 242.6,269.68 244.46,269.49 246.32,269.3 248.17,269.11 250.03,268.93 251.89,268.76 253.74,268.59 255.6,268.42" fill="none" stroke="#000" stroke-width="2.4" stroke-linecap="round" stroke-dasharray="0 5.9"/>
<polyline points="32.8,322.01 34.66,322 36.51,321.99 38.37,321.98 40.23,321.97 42.08,321.96 43.94,321.95 45.8,321.94 47.65,321.93 49.51,321.92 51.37,321.91 53.22,321.91 55.08,321.9 56.94,321.89 58.79,321.88 60.65,321.87 62.51,321.86 64.36,321.85 66.22,321.84 68.08,321.83 69.93,321.82 71.79,321.81 73.65,321.8 75.5,321.79 77.36,321.79 79.22,321.78 81.07,321.77 82.93,321.76 84.79,321.75 86.64,321.74 88.5,321.73 90.36,321.72 92.21,321.71 94.07,321.7 95.93,321.69 97.78,321.68 99.64,321.67 101.5,321.67 103.35,321.66 105.21,321.65 107.07,321.64 108.92,321.63 110.78,321.62 112.64,321.61 114.49,321.6 116.35,321.59 118.21,321.58 120.06,321.57 121.92,321.56 123.78,321.55 125.63,321.54 127.49,321.54 129.35,321.53 131.2,321.52 133.06,321.51 134.92,321.5 136.77,321.49 138.63,321.48 140.49,321.47 142.34,321.46 144.2,321.45 146.06,321.44 147.91,321.43 149.77,321.42 151.63,321.42 153.48,321.41 155.34,321.4 157.2,321.39 159.05,321.38 160.91,321.37 162.77,321.36 164.62,321.35 166.48,321.34 168.34,321.33 170.19,321.32 172.05,321.31 173.91,321.3 175.76,321.3 177.62,321.29 179.48,321.28 181.33,321.27 183.19,321.26 185.05,321.25 186.9,321.24 188.76,321.23 190.62,321.22 192.47,321.21 194.33,321.2 196.19,321.19 198.04,321.18 199.9,321.18 201.76,321.17 203.61,321.16 205.47,321.15 207.33,321.14 209.18,321.13 211.04,321.12 212.9,321.11 214.75,321.1 216.61,321.09 218.47,321.08 220.32,321.07 222.18,321.06 224.04,321.06 225.89,321.05 227.75,321.04 229.61,321.03 231.46,321.02 233.32,321.01 235.18,321 237.03,320.99 238.89,320.98 240.75,320.97 242.6,320.96 244.46,320.95 246.32,320.94 248.17,320.93 250.03,320.93 251.89,320.92 253.74,320.91 255.6,320.9" fill="none" stroke="#000" stroke-width="2" stroke-dasharray="16.5 6.5"/>
<path d="M36.2,194.2 H106.3" fill="none" stroke="#000" stroke-width="2" stroke-linecap="round"/>
<path d="M36.2,202.8h17.1M58.9,202.8h17.1M81.6,202.8h17.1" fill="none" stroke="#000" stroke-width="2"/>
<path d="M36.8,211.2h0.01M41.79,211.2h0.01M46.78,211.2h0.01M51.78,211.2h0.01M56.77,211.2h0.01M61.76,211.2h0.01M66.75,211.2h0.01M71.75,211.2h0.01M76.74,211.2h0.01M81.73,211.2h0.01M86.72,211.2h0.01M91.72,211.2h0.01M96.71,211.2h0.01M101.7,211.2h0.01" fill="none" stroke="#000" stroke-width="2.3" stroke-linecap="round"/>
<text x="122.7" y="196.3" font-size="5.9" font-weight="bold" text-anchor="start" fill="#3a3a3a">CA</text>
<text x="122.7" y="204.9" font-size="5.9" font-weight="bold" text-anchor="start" fill="#3a3a3a">MGO</text>
<text x="122.7" y="213.3" font-size="5.9" font-weight="bold" text-anchor="start" fill="#3a3a3a" textLength="48.2" lengthAdjust="spacingAndGlyphs">MGO + 1mM SAC</text>
<text x="235" y="202.3" font-size="16" font-weight="bold" text-anchor="start" fill="#000">D</text>
<path d="M300.6,182.7 H519.1 V334.3 H300.6 Z" fill="none" stroke="#111" stroke-width="1.4"/>
<line x1="297.6" y1="334.3" x2="300.6" y2="334.3" stroke="#555" stroke-width="1"/>
<text x="294.1" y="337.1" font-size="8.2" font-weight="bold" text-anchor="end" fill="#222">-15</text>
<line x1="297.6" y1="309.03" x2="300.6" y2="309.03" stroke="#555" stroke-width="1"/>
<text x="294.1" y="311.83" font-size="8.2" font-weight="bold" text-anchor="end" fill="#222">-10</text>
<line x1="297.6" y1="283.77" x2="300.6" y2="283.77" stroke="#555" stroke-width="1"/>
<text x="294.1" y="286.57" font-size="8.2" font-weight="bold" text-anchor="end" fill="#222">-5</text>
<line x1="297.6" y1="258.5" x2="300.6" y2="258.5" stroke="#555" stroke-width="1"/>
<text x="294.1" y="261.3" font-size="8.2" font-weight="bold" text-anchor="end" fill="#222">0</text>
<line x1="297.6" y1="233.23" x2="300.6" y2="233.23" stroke="#555" stroke-width="1"/>
<text x="294.1" y="236.03" font-size="8.2" font-weight="bold" text-anchor="end" fill="#222">5</text>
<line x1="297.6" y1="207.97" x2="300.6" y2="207.97" stroke="#555" stroke-width="1"/>
<text x="294.1" y="210.77" font-size="8.2" font-weight="bold" text-anchor="end" fill="#222">10</text>
<line x1="297.6" y1="182.7" x2="300.6" y2="182.7" stroke="#555" stroke-width="1"/>
<text x="294.1" y="185.5" font-size="8.2" font-weight="bold" text-anchor="end" fill="#222">15</text>
<line x1="311" y1="334.3" x2="311" y2="336.8" stroke="#555" stroke-width="1"/>
<text x="311" y="350" font-size="8.9" font-weight="bold" text-anchor="middle" fill="#222">200</text>
<line x1="363.03" y1="334.3" x2="363.03" y2="336.8" stroke="#555" stroke-width="1"/>
<text x="363.03" y="350" font-size="8.9" font-weight="bold" text-anchor="middle" fill="#222">210</text>
<line x1="415.05" y1="334.3" x2="415.05" y2="336.8" stroke="#555" stroke-width="1"/>
<text x="415.05" y="350" font-size="8.9" font-weight="bold" text-anchor="middle" fill="#222">220</text>
<line x1="467.08" y1="334.3" x2="467.08" y2="336.8" stroke="#555" stroke-width="1"/>
<text x="467.08" y="350" font-size="8.9" font-weight="bold" text-anchor="middle" fill="#222">230</text>
<line x1="519.1" y1="334.3" x2="519.1" y2="336.8" stroke="#555" stroke-width="1"/>
<text x="519.1" y="350" font-size="8.9" font-weight="bold" text-anchor="middle" fill="#222">240</text>
<text x="410" y="368" font-size="9.5" font-weight="bold" text-anchor="middle" fill="#222" textLength="76.5" lengthAdjust="spacingAndGlyphs">Wavelength (nm)</text>
<text transform="translate(282.6,258) rotate(-90)" font-size="7.9" font-weight="bold" text-anchor="middle" fill="#222" textLength="67.8" lengthAdjust="spacingAndGlyphs">CD Signal (mdeg)</text>
<path d="M300.6,208.22 C300.7,208.91 302.45,221.07 302.68,222.12 C302.92,223.16 305.02,229.22 305.28,229.19 C305.54,229.17 307.6,222.28 307.88,221.61 C308.16,220.95 310.59,216.17 310.9,215.9 C311.21,215.64 313.85,216.02 314.13,216.3 C315.06,217.26 315.78,219.55 316.52,221.61 C317.26,223.67 317.95,225.82 318.55,228.69 C319.15,231.55 319.63,235.42 320.11,238.79 C320.59,242.16 320.67,244.35 321.41,248.9 C322.15,253.45 323.49,260.94 324.53,266.08 C325.57,271.22 326.7,276.44 327.65,279.72 C328.61,283.01 328.87,283.94 330.25,285.79 C331.64,287.64 334.07,288.9 335.98,290.84 C337.88,292.78 339.79,294.9 341.7,297.41 C343.61,299.92 345.25,303.5 347.42,305.9 C349.59,308.3 351.01,309.96 354.7,311.81 C358.4,313.67 365.16,315.96 369.58,317.02 C374.01,318.07 377.3,318.28 381.24,318.13 C385.17,317.98 389.21,316.91 393.2,316.11 C397.19,315.31 401.7,314.42 405.17,313.33 C408.64,312.23 411.06,311.27 414.01,309.54 C416.96,307.81 419.91,305.41 422.86,302.97 C425.8,300.53 428.84,297.83 431.7,294.88 C434.56,291.94 437.42,287.81 440.02,285.28 C442.63,282.76 444.45,281.49 447.31,279.72 C450.17,277.96 451.9,277.01 457.19,274.67 C462.48,272.33 471.67,267.91 479.04,265.68 C486.41,263.44 494.74,262.35 501.41,261.28 C508.09,260.21 516.15,259.59 519.1,259.26" fill="none" stroke="#000" stroke-width="2" stroke-linejoin="round"/>
<path d="M300.6,221.86 C300.83,221.22 304.85,208.89 305.28,208.98 C305.71,209.07 308.9,222.33 309.18,223.63 C310.12,227.97 310.08,230.45 310.9,235 C311.72,239.55 312.63,245.99 314.13,250.92 C315.62,255.85 318.37,261.2 319.85,264.56 C321.32,267.93 321.5,267.76 322.97,271.13 C324.44,274.5 326.7,281.07 328.69,284.78 C330.69,288.48 333.03,290.76 334.94,293.37 C336.84,295.98 338.4,297.92 340.14,300.44 C341.87,302.97 343.43,306.25 345.34,308.53 C347.25,310.8 348.03,311.69 351.58,314.09 C355.14,316.49 361.21,321.41 366.67,322.93 C372.13,324.45 379.16,323.73 384.36,323.18 C389.56,322.64 393.2,320.91 397.88,319.65 C402.57,318.38 408.55,317.29 412.45,315.6 C416.35,313.92 418.09,312.49 421.3,309.54 C424.5,306.59 428.58,301.71 431.7,297.92 C434.82,294.13 437.42,289.75 440.02,286.8 C442.63,283.85 444.45,282.17 447.31,280.23 C450.17,278.29 451.9,277.53 457.19,275.18 C462.48,272.82 471.67,268.35 479.04,266.08 C486.41,263.81 494.74,262.63 501.41,261.53 C508.09,260.44 516.15,259.85 519.1,259.51" fill="none" stroke="#000" stroke-width="2" stroke-dasharray="42.94 6.5 16.5 6.5 16.5 6.5 16.5 6.5 16.5 6.5 16.5 6.5 16.5 6.5 16.5 6.5 16.5 6.5 16.5 6.5 16.5 6.5 16.5 6.5 16.5 6.5 16.5 6.5 16.5 6.5 16.5 6.5 16.5 6.5 16.5 6.5 16.5 6.5 16.5 6.5 16.5 6.5 16.5 6.5 16.5 6.5 16.5 6.5 16.5 6.5 16.5 6.5"/>
<path d="M300.6,293.37 C300.95,290.84 301.9,282.49 302.68,278.21 C303.46,273.93 304.59,271.05 305.28,267.7 C305.98,264.35 306.31,261.04 306.84,258.1 C307.38,255.15 307.81,253.23 308.51,250.01 C309.2,246.79 310.2,242.14 311,238.79 C311.81,235.44 312.61,232.34 313.35,229.9 C314.08,227.46 314.6,224.93 315.43,224.14 C316.25,223.35 317.55,224.05 318.29,225.15 C319.03,226.24 319.2,228.85 319.85,230.71 C320.5,232.56 321.53,234.24 322.19,236.27 C322.85,238.29 323.27,240.31 323.8,242.83 C324.34,245.36 324.6,248.08 325.42,251.43 C326.23,254.77 327.63,259.19 328.69,262.9 C329.76,266.6 330.6,270.77 331.81,273.66 C333.03,276.55 334.76,278.38 335.98,280.23 C337.19,282.08 337.93,283.13 339.1,284.78 C340.27,286.42 341.53,288.4 343,290.08 C344.47,291.77 346.25,293.12 347.94,294.88 C349.63,296.65 351.41,298.76 353.14,300.7 C354.88,302.63 356.44,304.82 358.35,306.51 C360.25,308.19 362.68,309.67 364.59,310.8 C366.5,311.94 367.97,312.65 369.79,313.33 C371.61,314 372.83,314.55 375.51,314.84 C378.2,315.14 382.45,315.1 385.92,315.1 C389.39,315.1 392.86,315.39 396.32,314.84 C399.79,314.3 403.26,313.2 406.73,311.81 C410.2,310.42 414.19,308.36 417.13,306.51 C420.08,304.65 422.25,302.55 424.42,300.7 C426.58,298.84 428.41,297.2 430.14,295.39 C431.87,293.58 432.83,291.94 434.82,289.83 C436.82,287.73 438.38,285.28 442.1,282.76 C445.83,280.23 451.04,277.52 457.19,274.67 C463.35,271.82 471.67,267.91 479.04,265.68 C486.41,263.44 494.74,262.35 501.41,261.28 C508.09,260.21 516.15,259.59 519.1,259.26" fill="none" stroke="#000" stroke-width="2.4" stroke-linecap="round" stroke-dasharray="0 5.3"/>
<path d="M383,191.3 H451.7" fill="none" stroke="#000" stroke-width="2" stroke-linecap="round"/>
<path d="M383,199.9h16.9M405.6,199.9h16.9M428.2,199.9h16.9" fill="none" stroke="#000" stroke-width="2"/>
<path d="M383.4,208.2h0.01M388.86,208.2h0.01M394.32,208.2h0.01M399.77,208.2h0.01M405.23,208.2h0.01M410.69,208.2h0.01M416.15,208.2h0.01M421.61,208.2h0.01M427.07,208.2h0.01M432.52,208.2h0.01M437.98,208.2h0.01M443.44,208.2h0.01M448.9,208.2h0.01" fill="none" stroke="#000" stroke-width="2.3" stroke-linecap="round"/>
<text x="468.2" y="193.4" font-size="5.9" font-weight="bold" text-anchor="start" fill="#3a3a3a">CA</text>
<text x="468.2" y="202" font-size="5.9" font-weight="bold" text-anchor="start" fill="#3a3a3a">MGO</text>
<text x="468.2" y="210.3" font-size="5.9" font-weight="bold" text-anchor="start" fill="#3a3a3a" textLength="46.5" lengthAdjust="spacingAndGlyphs">MGO + 1mM SAC</text>
<text x="306.8" y="202" font-size="16" font-weight="bold" text-anchor="start" fill="#000">E</text>
<path d="M564.3,186.4 H783 V338.3 H564.3 Z" fill="none" stroke="#111" stroke-width="1.4"/>
<line x1="561.3" y1="338.3" x2="564.3" y2="338.3" stroke="#555" stroke-width="1"/>
<text x="558.1" y="341.1" font-size="8.2" font-weight="bold" text-anchor="end" fill="#222">-6</text>
<line x1="561.3" y1="319.31" x2="564.3" y2="319.31" stroke="#555" stroke-width="1"/>
<text x="558.1" y="322.11" font-size="8.2" font-weight="bold" text-anchor="end" fill="#222">-4</text>
<line x1="561.3" y1="300.32" x2="564.3" y2="300.32" stroke="#555" stroke-width="1"/>
<text x="558.1" y="303.12" font-size="8.2" font-weight="bold" text-anchor="end" fill="#222">-2</text>
<line x1="561.3" y1="281.34" x2="564.3" y2="281.34" stroke="#555" stroke-width="1"/>
<text x="558.1" y="284.14" font-size="8.2" font-weight="bold" text-anchor="end" fill="#222">0</text>
<line x1="561.3" y1="262.35" x2="564.3" y2="262.35" stroke="#555" stroke-width="1"/>
<text x="558.1" y="265.15" font-size="8.2" font-weight="bold" text-anchor="end" fill="#222">2</text>
<line x1="561.3" y1="243.36" x2="564.3" y2="243.36" stroke="#555" stroke-width="1"/>
<text x="558.1" y="246.16" font-size="8.2" font-weight="bold" text-anchor="end" fill="#222">4</text>
<line x1="561.3" y1="224.38" x2="564.3" y2="224.38" stroke="#555" stroke-width="1"/>
<text x="558.1" y="227.18" font-size="8.2" font-weight="bold" text-anchor="end" fill="#222">6</text>
<line x1="561.3" y1="205.39" x2="564.3" y2="205.39" stroke="#555" stroke-width="1"/>
<text x="558.1" y="208.19" font-size="8.2" font-weight="bold" text-anchor="end" fill="#222">8</text>
<line x1="561.3" y1="186.4" x2="564.3" y2="186.4" stroke="#555" stroke-width="1"/>
<text x="558.1" y="189.2" font-size="8.2" font-weight="bold" text-anchor="end" fill="#222">10</text>
<line x1="564.3" y1="338.3" x2="564.3" y2="340.8" stroke="#555" stroke-width="1"/>
<text x="564.3" y="354" font-size="8.9" font-weight="bold" text-anchor="middle" fill="#222">240</text>
<line x1="618.97" y1="338.3" x2="618.97" y2="340.8" stroke="#555" stroke-width="1"/>
<text x="618.97" y="354" font-size="8.9" font-weight="bold" text-anchor="middle" fill="#222">260</text>
<line x1="673.65" y1="338.3" x2="673.65" y2="340.8" stroke="#555" stroke-width="1"/>
<text x="673.65" y="354" font-size="8.9" font-weight="bold" text-anchor="middle" fill="#222">280</text>
<line x1="728.33" y1="338.3" x2="728.33" y2="340.8" stroke="#555" stroke-width="1"/>
<text x="728.33" y="354" font-size="8.9" font-weight="bold" text-anchor="middle" fill="#222">300</text>
<line x1="783" y1="338.3" x2="783" y2="340.8" stroke="#555" stroke-width="1"/>
<text x="783" y="354" font-size="8.9" font-weight="bold" text-anchor="middle" fill="#222">320</text>
<text x="673.2" y="364.6" font-size="9.5" font-weight="bold" text-anchor="middle" fill="#222" textLength="76.8" lengthAdjust="spacingAndGlyphs">Wavelength (nm)</text>
<text transform="translate(547.2,261.9) rotate(-90)" font-size="7.9" font-weight="bold" text-anchor="middle" fill="#222" textLength="68.7" lengthAdjust="spacingAndGlyphs">CD Signal (mdeg)</text>
<path d="M564.3,210.61 C564.98,209.74 566.85,206.57 568.4,205.39 C569.95,204.2 572,203.41 573.59,203.49 C575.19,203.57 576.33,204.52 577.97,205.86 C579.61,207.21 581.43,208.16 583.44,211.56 C585.44,214.96 587.67,220.89 590,226.27 C592.32,231.65 594.69,237.19 597.38,243.84 C600.07,250.48 603.76,259.74 606.13,266.15 C608.5,272.56 608.91,276.27 611.59,282.29 C614.28,288.3 618.7,297.32 622.26,302.22 C625.81,307.13 629.36,309.9 632.92,311.72 C636.47,313.54 639.98,313.46 643.58,313.14 C647.18,312.83 650.87,311.48 654.51,309.82 C658.16,308.16 661.85,305.31 665.45,303.17 C669.05,301.04 672.92,298.9 676.11,297 C679.3,295.1 682.26,293.6 684.59,291.78 C686.91,289.96 688.46,287.9 690.05,286.08 C691.65,284.26 692.24,280.47 694.15,280.86 C696.07,281.26 698.57,286.01 701.53,288.46 C704.5,290.91 708.37,294.55 711.92,295.58 C715.48,296.61 719.21,295.82 722.86,294.63 C726.5,293.44 730.15,290.51 733.79,288.46 C737.44,286.4 740.17,283.63 744.73,282.29 C749.28,280.94 754.75,280.55 761.13,280.39 C767.51,280.23 779.36,281.18 783,281.34" fill="none" stroke="#000" stroke-width="1.8" stroke-linejoin="round"/>
<path d="M564.3,204.91 C565.35,204.28 568.77,201.51 570.59,201.12 C572.41,200.72 573.55,201.51 575.23,202.54 C576.92,203.57 578.88,205.23 580.7,207.29 C582.52,209.34 584.21,211.56 586.17,214.88 C588.13,218.2 590.27,222.32 592.46,227.22 C594.64,232.13 596.6,238.14 599.29,244.31 C601.98,250.48 605.99,258.24 608.59,264.25 C611.18,270.26 612.23,275.01 614.87,280.39 C617.52,285.77 621.07,292.41 624.44,296.53 C627.81,300.64 631.91,303.96 635.1,305.07 C638.29,306.18 640.34,304.91 643.58,303.17 C646.81,301.43 650.87,297.48 654.51,294.63 C658.16,291.78 661.48,288.85 665.45,286.08 C669.41,283.32 674.38,280.63 678.3,278.01 C682.22,275.4 686,273.35 688.96,270.42 C691.92,267.49 693.61,261.16 696.07,260.45 C698.53,259.74 700.62,262.9 703.72,266.15 C706.82,269.39 711.47,277.07 714.66,279.91 C717.85,282.76 719.3,282.73 722.86,283.24 C726.41,283.74 732.02,283.71 735.98,282.95 C739.94,282.19 743.04,279.58 746.64,278.68 C750.24,277.78 753.61,277.57 757.58,277.54 C761.54,277.51 766.19,277.86 770.42,278.49 C774.66,279.12 780.9,280.86 783,281.34" fill="none" stroke="#000" stroke-width="1.8" stroke-dasharray="16.5 6.5"/>
<path d="M564.3,241.46 C564.98,238.62 566.85,228.81 568.4,224.38 C569.95,219.94 571.27,216.62 573.59,214.88 C575.92,213.14 580.02,212.67 582.34,213.93 C584.67,215.2 585.99,219.94 587.54,222.48 C589.09,225.01 590,225.48 591.64,229.12 C593.28,232.76 594.96,237.98 597.38,244.31 C599.79,250.64 603.76,260.61 606.13,267.1 C608.5,273.58 608.91,277.22 611.59,283.24 C614.28,289.25 618.7,298.19 622.26,303.17 C625.81,308.16 629.36,311.32 632.92,313.14 C636.47,314.96 639.98,314.57 643.58,314.09 C647.18,313.62 650.87,311.95 654.51,310.29 C658.16,308.63 661.85,306.18 665.45,304.12 C669.05,302.07 672.92,299.85 676.11,297.95 C679.3,296.05 682.26,294.55 684.59,292.73 C686.91,290.91 688.46,288.85 690.05,287.03 C691.65,285.21 692.33,281.81 694.15,281.81 C695.98,281.81 698.03,285.06 700.99,287.03 C703.95,289.01 708.28,292.73 711.92,293.68 C715.57,294.63 719.21,293.68 722.86,292.73 C726.5,291.78 730.15,289.8 733.79,287.98 C737.44,286.16 740.17,283.16 744.73,281.81 C749.28,280.47 754.75,279.99 761.13,279.91 C767.51,279.83 779.36,281.1 783,281.34" fill="none" stroke="#000" stroke-width="2.4" stroke-linecap="round" stroke-dasharray="0 5.6"/>
<path d="M646.8,196.6 H714.9" fill="none" stroke="#000" stroke-width="1.8" stroke-linecap="round"/>
<path d="M646.8,205.1h16.8M669.2,205.1h16.8M691.6,205.1h16.8" fill="none" stroke="#000" stroke-width="1.8"/>
<path d="M647.1,213.6h0.01M651.69,213.6h0.01M656.29,213.6h0.01M660.88,213.6h0.01M665.47,213.6h0.01M670.06,213.6h0.01M674.66,213.6h0.01M679.25,213.6h0.01M683.84,213.6h0.01M688.44,213.6h0.01M693.03,213.6h0.01M697.62,213.6h0.01M702.21,213.6h0.01M706.81,213.6h0.01M711.4,213.6h0.01" fill="none" stroke="#000" stroke-width="2.3" stroke-linecap="round"/>
<text x="731.1" y="198.7" font-size="5.9" font-weight="bold" text-anchor="start" fill="#3a3a3a">CA</text>
<text x="731.1" y="207.2" font-size="5.9" font-weight="bold" text-anchor="start" fill="#3a3a3a">MGO</text>
<text x="731.1" y="215.7" font-size="5.9" font-weight="bold" text-anchor="start" fill="#3a3a3a" textLength="47" lengthAdjust="spacingAndGlyphs">MGO + 1mM SAC</text>
<text x="583.4" y="204.2" font-size="16" font-weight="bold" text-anchor="start" fill="#000">F</text>
</svg></body></html>
